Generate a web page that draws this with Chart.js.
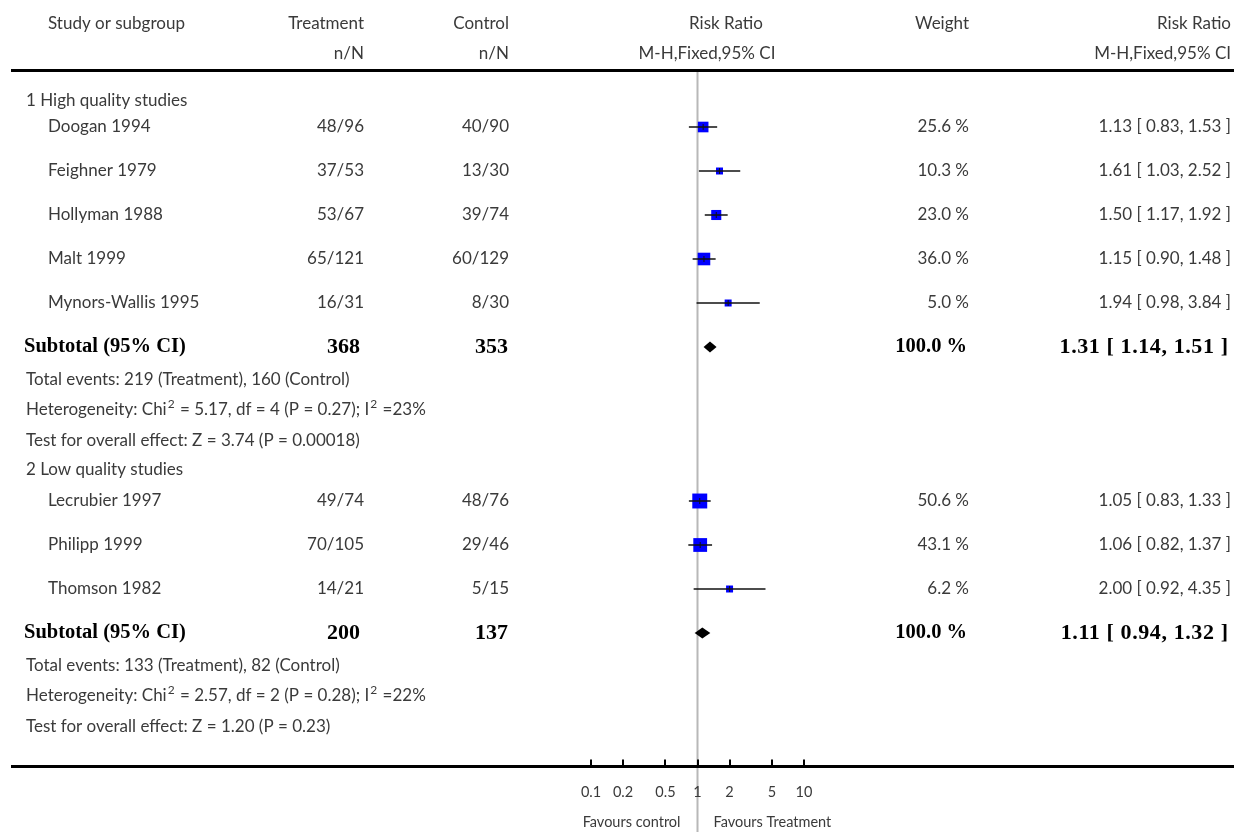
<!DOCTYPE html>
<html>
<head>
<meta charset="utf-8">
<script src="https://cdn.jsdelivr.net/npm/chart.js@4.4.0/dist/chart.umd.min.js"></script>
<style>
html,body{margin:0;padding:0;background:#fff;}
canvas{display:block;}
</style>
</head>
<body>
<canvas id="c" width="1234" height="832"></canvas>
<script>
// ---------------- DATA ----------------
const groupNames = ['1 High quality studies', '2 Low quality studies'];
const studyNames = ['Doogan 1994', 'Feighner 1979', 'Hollyman 1988', 'Malt 1999', 'Mynors-Wallis 1995',
                    'Lecrubier 1997', 'Philipp 1999', 'Thomson 1982'];
const studyGroup = [0, 0, 0, 0, 0, 1, 1, 1];
const treatEvents = [48, 37, 53, 65, 16, 49, 70, 14];
const treatTotal  = [96, 53, 67, 121, 31, 74, 105, 21];
const ctrlEvents  = [40, 13, 39, 60, 8, 48, 29, 5];
const ctrlTotal   = [90, 30, 74, 129, 30, 76, 46, 15];
const riskRatio   = [1.13, 1.61, 1.50, 1.15, 1.94, 1.05, 1.06, 2.00];
const ciLow       = [0.83, 1.03, 1.17, 0.90, 0.98, 0.83, 0.82, 0.92];
const ciHigh      = [1.53, 2.52, 1.92, 1.48, 3.84, 1.33, 1.37, 4.35];
const weights     = [25.6, 10.3, 23.0, 36.0, 5.0, 50.6, 43.1, 6.2];

const subTreatTotal = [368, 200];
const subCtrlTotal  = [353, 137];
const subRR   = [1.31, 1.11];
const subLow  = [1.14, 0.94];
const subHigh = [1.51, 1.32];
const subWeight = [100.0, 100.0];
const subTreatEvents = [219, 133];
const subCtrlEvents  = [160, 82];
const hetChi2 = ['5.17', '2.57'];
const hetDf   = [4, 2];
const hetP    = ['0.27', '0.28'];
const hetI2   = [23, 22];
const effectZ = ['3.74', '1.20'];
const effectP = ['0.00018', '0.23'];

const tickValues = [0.1, 0.2, 0.5, 1, 2, 5, 10];
const tickLabels = ['0.1', '0.2', '0.5', '1', '2', '5', '10'];
const favoursLeft = 'Favours control';
const favoursRight = 'Favours Treatment';

// ---------------- LAYOUT (row positions) ----------------
const HEADER_LINE_Y = 70.5;
const AXIS_LINE_Y = 766.5;
const GAP = { lineToGroup: 30.5, groupToStudy: [26, 31], studyToStudy: 44, studyToSub: 44,
              subToInfo: 32.5, infoToInfo: 30.5, infoToGroup: 29.5 };

const rows = [];
const studyY = [];
const subY = [];
(function buildRows() {
  let y = HEADER_LINE_Y + GAP.lineToGroup;
  groupNames.forEach((g, gi) => {
    if (gi > 0) y += GAP.infoToGroup;
    rows.push({ type: 'group', g: gi, y });
    let first = true;
    studyNames.forEach((s, si) => {
      if (studyGroup[si] !== gi) return;
      y += first ? GAP.groupToStudy[gi] : GAP.studyToStudy;
      first = false;
      studyY[si] = y;
      rows.push({ type: 'study', i: si, y });
    });
    y += GAP.studyToSub;
    subY[gi] = y;
    rows.push({ type: 'sub', g: gi, y });
    y += GAP.subToInfo;
    rows.push({ type: 'events', g: gi, y });
    y += GAP.infoToInfo;
    rows.push({ type: 'het', g: gi, y });
    y += GAP.infoToInfo;
    rows.push({ type: 'test', g: gi, y });
  });
})();

const COL = { groupX: 26, studyX: 48, subX: 24, treatR: 364, ctrlR: 509,
              subTreatR: 360, subCtrlR: 508, weightR: 969, rrR: 1231, subWeightR: 967, subRrR: 1228 };

const TXT = '#3a3a3a';
const REG_SIZE = 17;
const REG = REG_SIZE + 'px Lato, "Open Sans", sans-serif';
const BOLD = 'bold 20.5px "Liberation Serif", "DejaVu Serif", serif';
const BOLD_NUM = 'bold 22px "Liberation Serif", "DejaVu Serif", serif';
const SMALL = '14.5px Lato, "Open Sans", sans-serif';

function drawRich(ctx, parts, x, y) {
  let cx = x;
  parts.forEach(p => {
    if (p.sup) {
      ctx.font = Math.round(REG_SIZE * 0.7) + 'px Lato, sans-serif';
      ctx.fillText(p.t, cx + 1, y - REG_SIZE * 0.36);
      cx += ctx.measureText(p.t).width + 2;
    } else {
      ctx.font = REG;
      ctx.fillText(p.t, cx, y);
      cx += ctx.measureText(p.t).width;
    }
  });
}

const f2 = v => v.toFixed(2);

function setSpacing(ctx, v) { if ('letterSpacing' in ctx) ctx.letterSpacing = v; }

const forestPlugin = {
  id: 'forest',
  beforeDatasetsDraw(chart) {
    const { ctx } = chart;
    const xs = chart.scales.x;
    const H = chart.height;
    ctx.save();
    const x1 = xs.getPixelForValue(1);
    ctx.strokeStyle = '#b8b8b8';
    ctx.lineWidth = 2;
    ctx.beginPath(); ctx.moveTo(x1, HEADER_LINE_Y); ctx.lineTo(x1, H); ctx.stroke();
    ctx.restore();
  },
  afterDatasetsDraw(chart) {
    const { ctx } = chart;
    const xs = chart.scales.x, ys = chart.scales.y;
    const W = chart.width;
    ctx.save();

    // horizontal rules
    ctx.strokeStyle = '#000';
    ctx.lineWidth = 3;
    ctx.beginPath(); ctx.moveTo(11, HEADER_LINE_Y); ctx.lineTo(W, HEADER_LINE_Y); ctx.stroke();
    ctx.beginPath(); ctx.moveTo(11, AXIS_LINE_Y); ctx.lineTo(W, AXIS_LINE_Y); ctx.stroke();

    // axis ticks (pointing up)
    ctx.lineWidth = 2;
    tickValues.forEach(v => {
      const px = Math.round(xs.getPixelForValue(v));
      ctx.beginPath(); ctx.moveTo(px, AXIS_LINE_Y); ctx.lineTo(px, AXIS_LINE_Y - 7); ctx.stroke();
    });
    ctx.fillStyle = TXT;
    ctx.font = SMALL;
    ctx.textBaseline = 'middle';
    ctx.textAlign = 'center';
    tickValues.forEach((v, i) => {
      ctx.fillText(tickLabels[i], xs.getPixelForValue(v), AXIS_LINE_Y + 26);
    });
    const x1 = xs.getPixelForValue(1);
    ctx.textAlign = 'right';
    ctx.fillText(favoursLeft, x1 - 17, AXIS_LINE_Y + 56);
    ctx.textAlign = 'left';
    ctx.fillText(favoursRight, x1 + 16, AXIS_LINE_Y + 56);

    // CI lines + estimate ticks
    studyNames.forEach((s, i) => {
      const yy = ys.getPixelForValue(studyY[i]);
      const xl = xs.getPixelForValue(ciLow[i]);
      const xh = xs.getPixelForValue(ciHigh[i]);
      const xe = xs.getPixelForValue(riskRatio[i]);
      ctx.strokeStyle = '#111';
      ctx.lineWidth = 1.5;
      ctx.beginPath(); ctx.moveTo(xl, yy); ctx.lineTo(xh, yy); ctx.stroke();
      ctx.lineWidth = 1;
      ctx.beginPath(); ctx.moveTo(xe, yy - 3); ctx.lineTo(xe, yy + 3); ctx.stroke();
    });

    // subtotal diamonds
    groupNames.forEach((g, gi) => {
      const yy = ys.getPixelForValue(subY[gi]);
      const xl = xs.getPixelForValue(subLow[gi]);
      const xh = xs.getPixelForValue(subHigh[gi]);
      const xe = xs.getPixelForValue(subRR[gi]);
      ctx.fillStyle = '#000';
      ctx.beginPath();
      ctx.moveTo(xl, yy); ctx.lineTo(xe, yy - 5.5); ctx.lineTo(xh, yy); ctx.lineTo(xe, yy + 5.5);
      ctx.closePath(); ctx.fill();
    });

    // header texts
    ctx.fillStyle = TXT;
    ctx.font = REG;
    ctx.textBaseline = 'middle';
    ctx.textAlign = 'left';
    ctx.fillText('Study or subgroup', COL.studyX, 24);
    ctx.textAlign = 'right';
    ctx.fillText('Treatment', COL.treatR, 24);
    ctx.fillText('n/N', COL.treatR, 54);
    ctx.fillText('Control', COL.ctrlR, 24);
    ctx.fillText('n/N', COL.ctrlR, 54);
    ctx.fillText('Weight', COL.weightR, 24);
    ctx.fillText('Risk Ratio', COL.rrR, 24);
    ctx.fillText('M-H,Fixed,95% CI', COL.rrR, 54);
    ctx.textAlign = 'center';
    ctx.fillText('Risk Ratio', 726, 24);
    ctx.fillText('M-H,Fixed,95% CI', 707, 54);

    // body rows
    rows.forEach(r => {
      const yy = ys.getPixelForValue(r.y);
      ctx.fillStyle = TXT;
      ctx.font = REG;
      setSpacing(ctx, '0px');
      if (r.type === 'group') {
        ctx.textAlign = 'left';
        ctx.fillText(groupNames[r.g], COL.groupX, yy);
      } else if (r.type === 'study') {
        const i = r.i;
        ctx.textAlign = 'left';
        ctx.fillText(studyNames[i], COL.studyX, yy);
        ctx.textAlign = 'right';
        ctx.fillText(treatEvents[i] + '/' + treatTotal[i], COL.treatR, yy);
        ctx.fillText(ctrlEvents[i] + '/' + ctrlTotal[i], COL.ctrlR, yy);
        ctx.fillText(weights[i].toFixed(1) + ' %', COL.weightR, yy);
        ctx.fillText(f2(riskRatio[i]) + ' [ ' + f2(ciLow[i]) + ', ' + f2(ciHigh[i]) + ' ]', COL.rrR, yy);
      } else if (r.type === 'sub') {
        const g = r.g;
        ctx.fillStyle = '#000';
        ctx.font = BOLD;
        ctx.textAlign = 'left';
        ctx.fillText('Subtotal (95% CI)', COL.subX, yy);
        ctx.textAlign = 'right';
        ctx.font = BOLD_NUM;
        ctx.fillText(String(subTreatTotal[g]), COL.subTreatR, yy);
        ctx.fillText(String(subCtrlTotal[g]), COL.subCtrlR, yy);
        ctx.font = BOLD;
        ctx.fillText(subWeight[g].toFixed(1) + ' %', COL.subWeightR, yy);
        ctx.font = BOLD_NUM;
        setSpacing(ctx, '0.6px');
        ctx.fillText(f2(subRR[g]) + ' [ ' + f2(subLow[g]) + ', ' + f2(subHigh[g]) + ' ]', COL.subRrR + 0.6, yy);
        setSpacing(ctx, '0px');
      } else if (r.type === 'events') {
        ctx.textAlign = 'left';
        ctx.fillText('Total events: ' + subTreatEvents[r.g] + ' (Treatment), ' + subCtrlEvents[r.g] + ' (Control)', COL.groupX, yy);
      } else if (r.type === 'het') {
        ctx.textAlign = 'left';
        const g = r.g;
        drawRich(ctx, [
          { t: 'Heterogeneity: Chi' }, { t: '2', sup: true },
          { t: ' = ' + hetChi2[g] + ', df = ' + hetDf[g] + ' (P = ' + hetP[g] + '); I' }, { t: '2', sup: true },
          { t: ' =' + hetI2[g] + '%' }
        ], COL.groupX, yy);
      } else if (r.type === 'test') {
        ctx.textAlign = 'left';
        ctx.fillText('Test for overall effect: Z = ' + effectZ[r.g] + ' (P = ' + effectP[r.g] + ')', COL.groupX, yy);
      }
    });
    ctx.restore();
  }
};

const boxSide = weights.map(w => Math.max(7, 2.1 * Math.sqrt(w)));

new Chart(document.getElementById('c'), {
  type: 'scatter',
  data: {
    datasets: [{
      label: 'Risk Ratio',
      data: studyNames.map((s, i) => ({ x: riskRatio[i], y: studyY[i] })),
      pointStyle: 'rect',
      pointRadius: boxSide.map(s => s / (2 * Math.SQRT1_2)),
      backgroundColor: '#0000ff',
      borderColor: '#0000ff',
      borderWidth: 0
    }]
  },
  options: {
    responsive: false,
    animation: false,
    events: [],
    layout: { autoPadding: false, padding: { left: 591, right: 430, top: 0, bottom: 0 } },
    plugins: { legend: { display: false }, tooltip: { enabled: false } },
    scales: {
      x: { type: 'logarithmic', min: 0.1, max: 10, display: false },
      y: { type: 'linear', min: 0, max: 832, reverse: true, display: false }
    }
  },
  plugins: [forestPlugin]
});
</script>
</body>
</html>
